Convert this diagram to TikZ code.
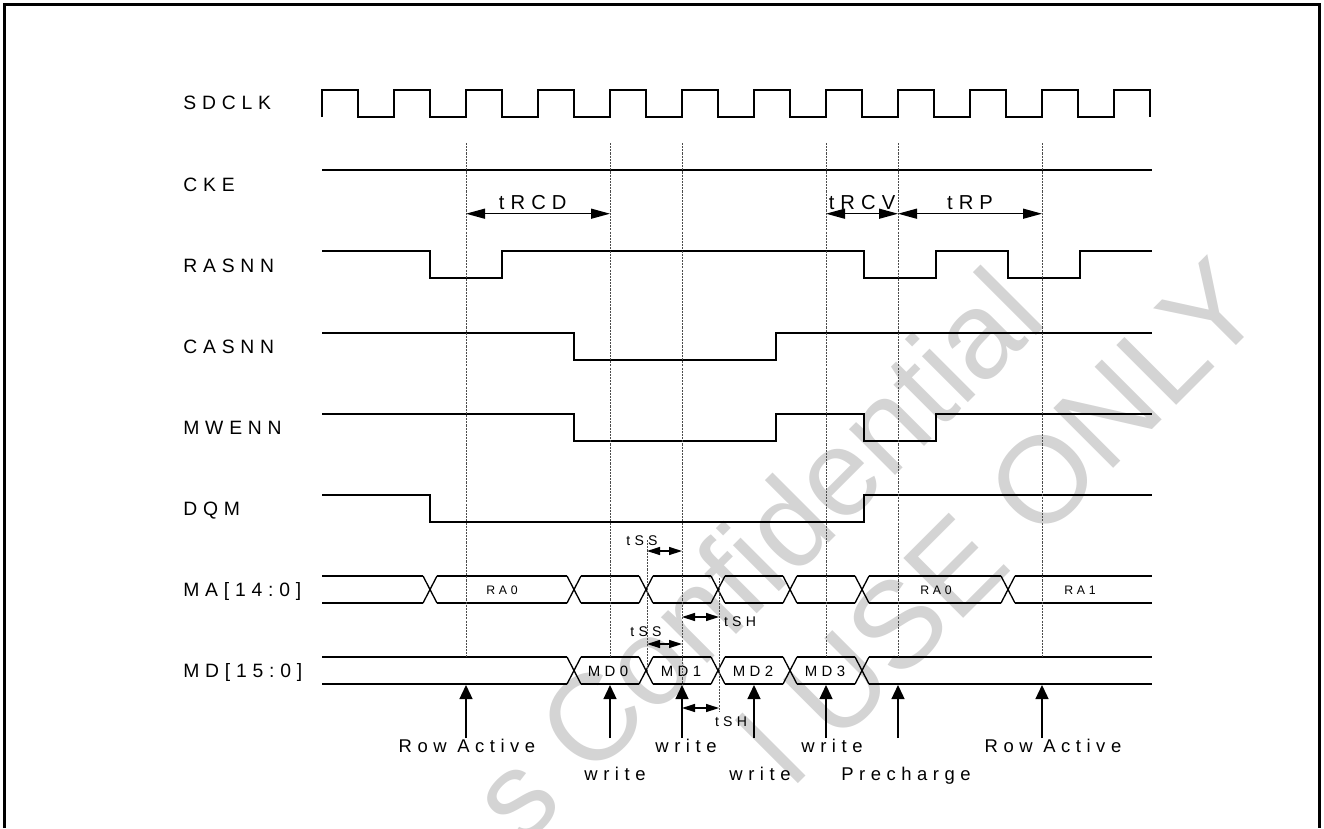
\documentclass[tikz,border=0pt]{standalone}
\usepackage{fontspec}
\setmainfont{Liberation Sans}
\newfontfamily\spaced[LetterSpace=30]{Liberation Sans}
\usetikzlibrary{arrows.meta,positioning}

\tikzset{
  sig/.style={line width=0.75pt},
  guide/.style={black!70,line width=0.45pt,dash pattern=on 1.2pt off 0.6pt},
  dim/.style={line width=0.75pt,{Triangle[length=0.38cm,width=0.2cm]}-{Triangle[length=0.38cm,width=0.2cm]}},
  sdim/.style={line width=0.75pt,{Triangle[length=0.26cm,width=0.16cm]}-{Triangle[length=0.26cm,width=0.16cm]}},
  evarrow/.style={line width=0.75pt,-{Triangle[length=0.28cm,width=0.26cm]}},
  rowlbl/.style={anchor=base west,inner sep=0pt,font=\spaced\fontsize{11}{13}\selectfont},
  evlbl/.style={anchor=base,inner sep=0pt,font=\spaced\fontsize{10.5}{12}\selectfont},
  dimlbl/.style={inner sep=2pt,font=\spaced\fontsize{11.5}{13}\selectfont},
  slbl/.style={inner sep=0pt,font=\spaced\fontsize{8}{9}\selectfont},
  buslbl/.style={inner sep=0pt,font=\spaced\fontsize{8.5}{10}\selectfont},
  addrlbl/.style={inner sep=0pt,font=\spaced\fontsize{7}{8}\selectfont},
  wm/.style={black!17,inner sep=0pt,font=\fontsize{70}{80}\selectfont,rotate=45}
}

\begin{document}
\begin{tikzpicture}[x=0.02cm,y=-0.02cm]
\useasboundingbox (0,0) rectangle (1324,828);

% watermark
\node[wm] (wm-a) at (755,554) {s Confidential};
\node[wm] (wm-b) at (1000,520) {l USE ONLY};

% frame
\draw[line width=1.7pt] (4.5,828) -- (4.5,4.5) -- (1319.5,4.5) -- (1319.5,828);

% signal names
\foreach \y/\name/\disp in {110/sdclk/SDCLK, 191/cke/CKE, 272/rasnn/RASNN, 353/casnn/CASNN, 434/mwenn/MWENN, 515/dqm/DQM, 596/ma/{MA[14:0]}, 677/md/{MD[15:0]}}
\node[rowlbl] (lbl-\name) at (183,\y) {\disp};

% clock and control lines
\draw[sig] (322,117) \foreach \k in {1,...,11} { -- ++(0,-27) -- ++(36,0) -- ++(0,27) -- ++(36,0) } -- ++(0,-27) -- ++(36,0) -- ++(0,27);
\draw[sig] (322,170) -- (1152,170);
\draw[sig] (322,251) -| (430,278) -| (502,251) -| (864,278) -| (936,251) -| (1008,278) -| (1080,251) -- (1152,251);
\draw[sig] (322,333) -| (574,360) -| (776,333) -- (1152,333);
\draw[sig] (322,414) -| (574,441) -| (776,414) -| (864,441) -| (936,414) -- (1152,414);
\draw[sig] (322,495) -| (430,522) -| (864,495) -- (1152,495);

% address bus
\foreach \c in {430,574,646,718,790,862,1008}
\draw[sig] (\c-7,576) -- (\c+7,603) (\c-7,603) -- (\c+7,576);
\foreach \a/\b in {322/423,437/567,581/639,653/711,725/783,797/855,869/1001,1015/1152}
\draw[sig] (\a,576) -- (\b,576) (\a,603) -- (\b,603);
\foreach \x/\n/\txt in {502/ra0/RA0, 936/ra0b/RA0, 1080/ra1/RA1}
\node[addrlbl] (\n) at (\x,590) {\txt};

% data bus
\foreach \c in {574,646,718,790,862}
\draw[sig] (\c-7,657) -- (\c+7,684) (\c-7,684) -- (\c+7,657);
\foreach \a/\b in {322/567,581/639,653/711,725/783,797/855,869/1152}
\draw[sig] (\a,657) -- (\b,657) (\a,684) -- (\b,684);
\foreach \x/\n in {608/0, 681/1, 753/2, 825/3}
\node[buslbl] (md\n) at (\x,671) {MD\n};

% guide lines
\foreach \x/\n/\e in {466/a/657, 610/b/657, 682/c/685, 826/d/657, 898/e/657, 1042/f/657} {
  \coordinate (gt-\n) at (\x,143);
  \coordinate (gb-\n) at (\x,\e);
  \draw[guide] (gt-\n) -- (gb-\n);
}
\coordinate (ss-t) at (647,540); \coordinate (ss-b) at (647,672);
\coordinate (sh-t) at (719,578); \coordinate (sh-b) at (719,712);
\draw[guide] (ss-t) -- (ss-b);
\draw[guide] (sh-t) -- (sh-b);

% timing arrows
\coordinate (dimrow) at (0,213.7);
\draw[dim] (gt-a |- dimrow) -- node[dimlbl,above,xshift=-3pt] (trcd) {tRCD} (gt-b |- dimrow);
\draw[dim] (gt-d |- dimrow) -- node[dimlbl,above] (trcv) {tRCV} (gt-e |- dimrow);
\draw[dim] (gt-e |- dimrow) -- node[dimlbl,above] (trp) {tRP} (gt-f |- dimrow);

\coordinate (ssa) at (0,551); \coordinate (ssb) at (0,644);
\coordinate (sha) at (0,617); \coordinate (shb) at (0,708);
\draw[sdim] (ss-t |- ssa) -- (gt-c |- ssa);
\draw[sdim] (ss-t |- ssb) -- (gt-c |- ssb);
\draw[sdim] (gt-c |- sha) -- (sh-t |- sha);
\draw[sdim] (gt-c |- shb) -- (sh-t |- shb);
\node[slbl] (tss-a) at (642,541) {tSS};
\node[slbl] (tss-b) at (646,632) {tSS};
\node[slbl] (tsh-a) at (740,622) {tSH};
\node[slbl] (tsh-b) at (731,722) {tSH};

% events
\foreach \x/\n/\lx/\ly/\txt in {466/ra1/467/752/Row Active, 610/wr0/615/780/write, 682/wr1/686/752/write, 754/wr2/760/780/write, 826/wr3/832/752/write, 898/pre/906/780/Precharge, 1042/ra2/1053/752/Row Active} {
  \coordinate (tail-\n) at (\x,738);
  \coordinate (tip-\n) at (\x,685);
  \draw[evarrow] (tail-\n) -- (tip-\n);
  \node[evlbl] (ev-\n) at (\lx,\ly) {\txt};
}

\end{tikzpicture}
\end{document}
